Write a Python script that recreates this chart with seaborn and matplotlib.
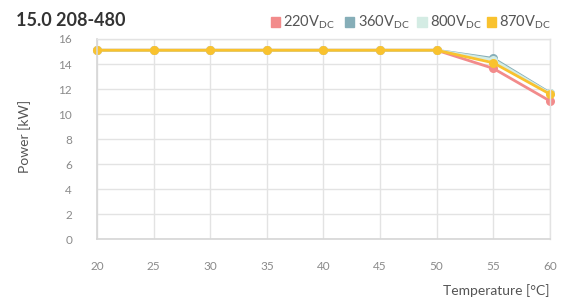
import numpy as np
import pandas as pd
import matplotlib.pyplot as plt
import seaborn as sns

# ---------- data ----------
temperature = [20, 25, 30, 35, 40, 45, 50, 55, 60]
series_names = ["220V$_{\\mathrm{DC}}$", "360V$_{\\mathrm{DC}}$",
                "800V$_{\\mathrm{DC}}$", "870V$_{\\mathrm{DC}}$"]
power_220 = [15.1, 15.1, 15.1, 15.1, 15.1, 15.1, 15.1, 13.65, 11.05]
power_360 = [15.1, 15.1, 15.1, 15.1, 15.1, 15.1, 15.1, 14.45, 11.7]
power_800 = [15.1, 15.1, 15.1, 15.1, 15.1, 15.1, 15.1, 14.35, 11.65]
power_870 = [15.1, 15.1, 15.1, 15.1, 15.1, 15.1, 15.1, 14.1, 11.6]
colors = ["#F28B8B", "#86AEB8", "#D4ECE4", "#F9C22E"]

rows = []
for name, vals in zip(series_names, [power_220, power_360, power_800, power_870]):
    for t, p in zip(temperature, vals):
        rows.append({"Temperature": t, "Power": p, "Series": name})
df = pd.DataFrame(rows)

# ---------- plot ----------
sns.set_style("white")
plt.rcParams["font.family"] = ["Lato", "DejaVu Sans"]
plt.rcParams["mathtext.fontset"] = "custom"
plt.rcParams["mathtext.rm"] = "Lato"

fig = plt.figure(figsize=(5.68, 3.0), dpi=100)
ax = fig.add_axes([0.171, 0.203, 0.797, 0.667])

sns.lineplot(data=df, x="Temperature", y="Power", hue="Series",
             palette=colors, marker="o", markersize=6.5, markeredgewidth=0,
             linewidth=2, legend=False, ax=ax)
for line in ax.lines:
    line.set_clip_on(False)

ax.set_xlim(20, 60)
ax.set_ylim(0, 16)
ax.set_xticks(temperature)
ax.set_yticks(range(0, 17, 2))
ax.grid(True, color="#E3E3E3", linewidth=1)
ax.set_axisbelow(True)
for side in ["top", "right"]:
    ax.spines[side].set_color("#E3E3E3")
    ax.spines[side].set_linewidth(1)
for side in ["left", "bottom"]:
    ax.spines[side].set_color("#D6D6D6")
    ax.spines[side].set_linewidth(1.2)
ax.tick_params(axis="both", length=0, labelsize=8.5, labelcolor="#8A8A8A")
ax.tick_params(axis="x", pad=16)
ax.tick_params(axis="y", pad=18)

ax.set_xlabel("")
ax.set_ylabel("")
fig.text(0.043, 0.545, "Power [kW]", rotation=90, ha="center", va="center",
         fontsize=10, color="#555555")
fig.text(0.968, 0.033, "Temperature [°C]", ha="right", va="center",
         fontsize=10, color="#555555")

fig.text(0.028, 0.93, "15.0 208-480", ha="left", va="center",
         fontsize=13, fontweight="bold", color="#333333")

# legend: small squares + labels across the top right
legend_x = [0.477, 0.608, 0.735, 0.857]
for x, name, c in zip(legend_x, series_names, colors):
    fig.patches.append(plt.Rectangle((x, 0.91), 0.016, 0.032, color=c,
                                     transform=fig.transFigure, figure=fig))
    fig.text(x + 0.022, 0.925, name, ha="left", va="center",
             fontsize=10.5, color="#555555")

plt.savefig("out.png", dpi=100)
plt.close()
